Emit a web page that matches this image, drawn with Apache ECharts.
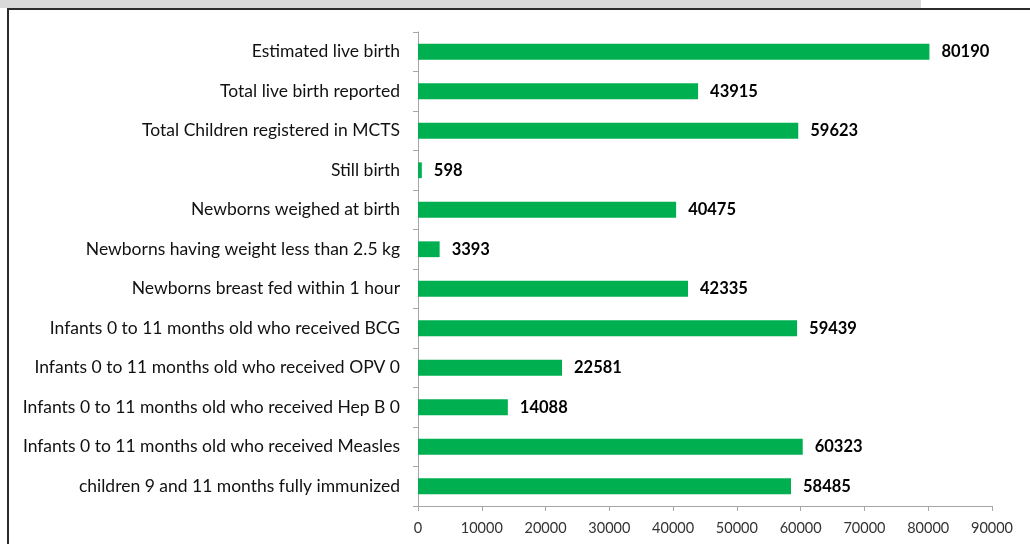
<!DOCTYPE html>
<html>
<head>
<meta charset="utf-8">
<script src="https://cdn.jsdelivr.net/npm/echarts@6/dist/echarts.min.js"></script>
<style>
  html, body { margin: 0; padding: 0; background: #fff; }
  #wrap { position: relative; width: 1030px; height: 544px; overflow: hidden; }
  #band { position: absolute; left: 0; top: 0; width: 921px; height: 8px; background: #d9d9d9; }
  #frame { position: absolute; left: 7px; top: 8px; width: 1040px; height: 560px;
           border-top: 2px solid #2b2b2b; border-left: 2px solid #2b2b2b; }
  #chart { position: absolute; left: 0; top: 0; width: 1030px; height: 544px; }
</style>
</head>
<body>
<div id="wrap">
  <div id="band"></div>
  <div id="frame"></div>
  <div id="chart"></div>
</div>
<script>
// categories and values
var categories = [
  'Estimated live birth',
  'Total live birth reported',
  'Total Children registered in MCTS',
  'Still birth',
  'Newborns weighed at birth',
  'Newborns having weight less than 2.5 kg',
  'Newborns breast fed within 1 hour',
  'Infants 0 to 11 months old who received BCG',
  'Infants 0 to 11 months old who received OPV 0',
  'Infants 0 to 11 months old who received Hep B 0',
  'Infants 0 to 11 months old who received Measles',
  'children 9 and 11 months fully immunized'
];
var values = [80190, 43915, 59623, 598, 40475, 3393, 42335, 59439, 22581, 14088, 60323, 58485];

var chart = echarts.init(document.getElementById('chart'));
var font = 'Lato, "Open Sans", sans-serif';

chart.setOption({
  animation: false,
  grid: { left: 418, right: 38, top: 32, bottom: 38 },
  xAxis: {
    type: 'value',
    min: 0,
    max: 90000,
    interval: 10000,
    splitLine: { show: false },
    axisLine: { show: true, lineStyle: { color: '#a6a6a6', width: 1 } },
    axisTick: { show: true, length: 5, lineStyle: { color: '#a6a6a6' } },
    axisLabel: {
      color: '#333', fontSize: 14.5, fontFamily: font, margin: 15,
      formatter: function (v) { return String(v); }
    }
  },
  yAxis: {
    type: 'category',
    inverse: true,
    data: categories,
    axisLine: { show: true, lineStyle: { color: '#a6a6a6', width: 1 } },
    axisTick: { show: true, length: 5, lineStyle: { color: '#a6a6a6' } },
    axisLabel: { color: '#111', fontSize: 17.5, fontFamily: font, margin: 18 }
  },
  series: [{
    type: 'bar',
    data: values,
    barCategoryGap: '60%',
    itemStyle: { color: '#00b050' },
    label: {
      show: true,
      position: 'right',
      distance: 12,
      color: '#000',
      fontWeight: 'bold',
      fontSize: 16.5,
      fontFamily: font
    }
  }]
});
</script>
</body>
</html>
